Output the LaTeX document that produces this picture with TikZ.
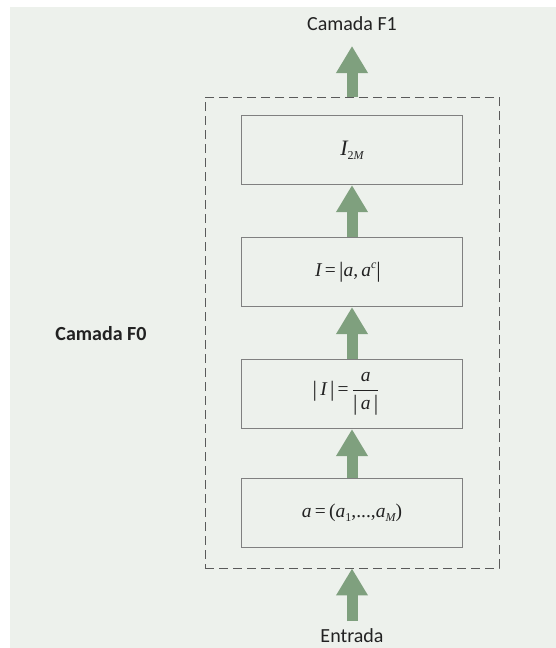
\documentclass[tikz,border=0pt]{standalone}
\usepackage{amsmath}
\usepackage{fontspec}
\setmainfont{Carlito}
\newfontfamily\tnr{Liberation Serif}
\usetikzlibrary{arrows.meta}
\definecolor{bgc}{HTML}{EDF1EC}
\definecolor{arrc}{HTML}{7FA07E}
\definecolor{boxc}{HTML}{808080}
\definecolor{dashc}{HTML}{5A5A5A}
\definecolor{txtc}{HTML}{222222}
\newcommand{\mysub}[1]{\raisebox{-4pt}{\fontsize{12}{12}\selectfont #1}}
\newcommand{\mysup}[1]{\raisebox{7.5pt}{\fontsize{12}{12}\selectfont #1}}
\newcommand{\bigbar}{\raisebox{-1pt}{\fontsize{22}{22}\selectfont\upshape|}}
\begin{document}
\begin{tikzpicture}[x=1pt,y=-1pt,
  stage/.style={draw=boxc, line width=1.2pt, minimum width=221pt, minimum height=69pt, inner sep=0pt,
    font=\tnr\fontsize{19.5}{22}\selectfont, text=txtc},
  frame/.style={draw=dashc, line width=0.9pt, dash pattern=on 9pt off 5pt, minimum width=294pt, minimum height=471pt, inner sep=0pt},
  lbl/.style={font=\fontsize{20}{22}\selectfont, text=txtc},
  blockarrow/.style={draw=arrc, line width=11pt, -{Triangle[width=30pt,length=27pt]}}
]
\useasboundingbox (0,0) rectangle (556,648);
\fill[bgc] (10,7) rectangle (556,648);

\node[frame] (frame) at (352,332.5) {};
\node[stage, font=\tnr\fontsize{22}{24}\selectfont] (b1) at (352,150) {\itshape I\mysub{\upshape 2\itshape M}};
\node[stage] (b2) at (352,272) {\hspace*{-8pt}\itshape I\upshape{}\,=\,\bigbar\itshape a\upshape,\,\itshape a\mysup{\itshape c}\bigbar};
\node[stage] (b3) at (352,394) {\hspace*{-12pt}\bigbar\,\itshape I\upshape\,\bigbar\,=\,$\dfrac{\hbox{\tnr\fontsize{19.5}{22}\selectfont\itshape a}}{\hbox{\tnr\fontsize{19.5}{22}\selectfont\bigbar\,\itshape a\upshape\,\bigbar}}$};
\node[stage] (b4) at (352,513) {\itshape a\upshape{}\,=\,(\itshape a\mysub{\upshape 1}\upshape,...,\itshape a\mysub{\itshape M}\upshape)};

\node[lbl] (f1) at (352,24) {Camada F1};
\node[lbl, font=\bfseries\fontsize{20}{22}\selectfont] (f0) at (101,334) {Camada F0};
\node[lbl] (in) at (352,636) {Entrada};

\coordinate (ftop) at (frame.north);
\coordinate (fbot) at (frame.south);
\coordinate (intop) at (352,621);
\coordinate (f1bot) at (352,46);

\draw[blockarrow] (ftop) -- (f1bot);
\draw[blockarrow] (b2.north) -- (b1.south);
\draw[blockarrow] (b3.north) -- (b2.south);
\draw[blockarrow] (b4.north) -- (b3.south);
\draw[blockarrow] (intop) -- (fbot);
\end{tikzpicture}
\end{document}
